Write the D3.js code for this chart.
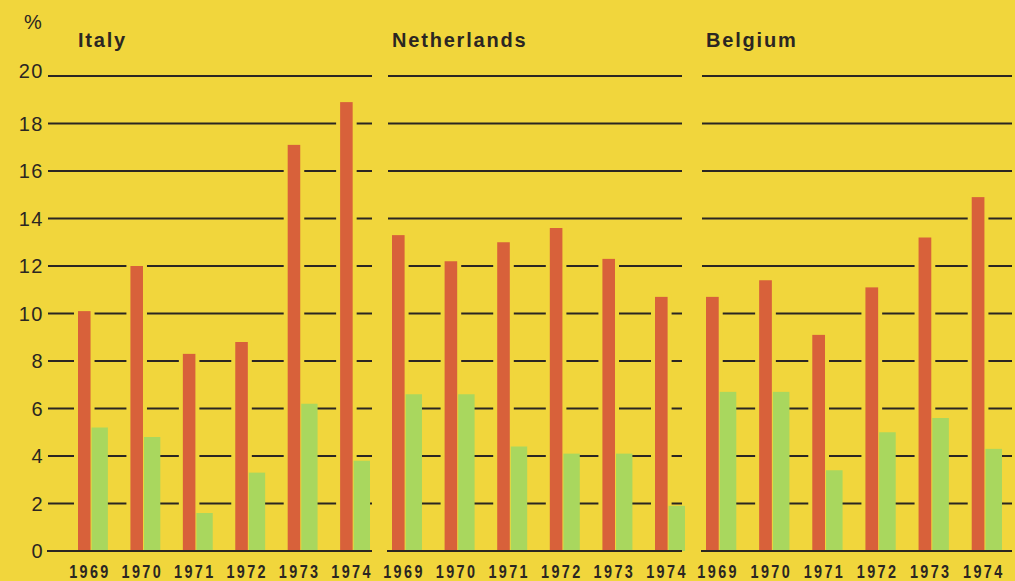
<!DOCTYPE html>
<html>
<head>
<meta charset="utf-8">
<script src="https://cdn.jsdelivr.net/npm/d3@7"></script>
<style>
  html, body { margin: 0; padding: 0; background: #f1d63c; }
  svg { display: block; }
  .tick-label { font-family: "Liberation Sans", Arial, sans-serif; font-size: 20px; fill: #2b2622; letter-spacing: 1.5px; }
  .title { font-family: "Liberation Sans", Arial, sans-serif; font-size: 20px; font-weight: bold; fill: #2b2622; letter-spacing: 1.8px; }
  .year { font-family: "Liberation Sans", Arial, sans-serif; font-size: 18px; font-weight: bold; fill: #2b2622; letter-spacing: 3px; }
</style>
</head>
<body>
<svg id="chart" width="1015" height="581" viewBox="0 0 1015 581"></svg>
<script>
// --- Data -------------------------------------
const years = [1969, 1970, 1971, 1972, 1973, 1974];
const countries = ["Italy", "Netherlands", "Belgium"];
const yTicks = [0, 2, 4, 6, 8, 10, 12, 14, 16, 18, 20];

// orange bars
const italyRed = [10.1, 12.0, 8.3, 8.8, 17.1, 18.9];
const netherlandsRed = [13.3, 12.2, 13.0, 13.6, 12.3, 10.7];
const belgiumRed = [10.7, 11.4, 9.1, 11.1, 13.2, 14.9];

// green bars
const italyGreen = [5.2, 4.8, 1.6, 3.3, 6.2, 3.8];
const netherlandsGreen = [6.6, 6.6, 4.4, 4.1, 4.1, 1.9];
const belgiumGreen = [6.7, 6.7, 3.4, 5.0, 5.6, 4.3];

const redSeries = [italyRed, netherlandsRed, belgiumRed];
const greenSeries = [italyGreen, netherlandsGreen, belgiumGreen];

// --- Layout ------------------------------------
const bg = "#f1d63c";
const red = "#d8613a";
const green = "#a9d75e";
const ink = "#2b2622";

// one entry per panel: where its gridlines run, where its bars go
const panels = [
  {grid: [48, 372], bars: [78, 370]},
  {grid: [388, 682], bars: [392, 685]},
  {grid: [702, 1012], bars: [706, 1002]}
];

const svg = d3.select("#chart");

svg.append("rect")
  .attr("width", 1015)
  .attr("height", 581)
  .attr("fill", bg);

const y = d3.scaleLinear()
  .domain([0, 20])
  .range([551, 76]);

// y labels, only once on the left
svg.append("g")
  .selectAll("text")
  .data(yTicks)
  .enter()
  .append("text")
  .attr("class", "tick-label")
  .attr("x", 44)
  .attr("y", d => y(d))
  .attr("dy", d => d === 20 ? "0.1em" : "0.36em")
  .attr("text-anchor", "end")
  .text(d => d);

svg.append("text")
  .attr("class", "tick-label")
  .attr("x", 24)
  .attr("y", 29)
  .text("%");

panels.forEach((p, i) => {
  const g = svg.append("g");

  const x = d3.scaleBand()
    .domain(years)
    .range(p.bars)
    .paddingInner(0.43)
    .paddingOuter(0);

  const bw = x.bandwidth();
  const redW = bw * 0.42;
  const greenW = bw - redW;

  const rows = years.map((yr, j) => ({
    year: yr,
    red: redSeries[i][j],
    green: greenSeries[i][j]
  }));

  // title
  g.append("text")
    .attr("class", "title")
    .attr("x", p.bars[0])
    .attr("y", 47)
    .text(countries[i]);

  // gridlines (not the baseline)
  g.append("g")
    .selectAll("line")
    .data(yTicks.filter(t => t > 0))
    .enter()
    .append("line")
    .attr("x1", p.grid[0])
    .attr("x2", p.grid[1])
    .attr("y1", d => y(d))
    .attr("y2", d => y(d))
    .attr("stroke", ink)
    .attr("stroke-width", 2);

  // small gaps in the gridlines around the orange bars
  g.append("g")
    .selectAll("rect")
    .data(rows)
    .enter()
    .append("rect")
    .attr("x", d => x(d.year) - 4)
    .attr("y", d => y(d.red) - 2)
    .attr("width", redW + 8)
    .attr("height", d => y(0) - y(d.red) + 2)
    .attr("fill", bg);

  g.append("g")
    .selectAll("rect")
    .data(rows)
    .enter()
    .append("rect")
    .attr("x", d => x(d.year))
    .attr("y", d => y(d.red))
    .attr("width", redW)
    .attr("height", d => y(0) - y(d.red))
    .attr("fill", red);

  g.append("g")
    .selectAll("rect")
    .data(rows)
    .enter()
    .append("rect")
    .attr("x", d => x(d.year) + redW + 1)
    .attr("y", d => y(d.green))
    .attr("width", greenW - 1)
    .attr("height", d => y(0) - y(d.green))
    .attr("fill", green);

  // baseline
  g.append("line")
    .attr("x1", p.grid[0] - 1)
    .attr("x2", p.grid[1])
    .attr("y1", y(0))
    .attr("y2", y(0))
    .attr("stroke", ink)
    .attr("stroke-width", 2);

  // year labels: narrow, spaced-out digits, so squeeze the text sideways
  g.append("g")
    .selectAll("text")
    .data(years)
    .enter()
    .append("text")
    .attr("class", "year")
    .attr("transform", d => "translate(" + (x(d) + bw / 2 - 4 + 1) + ",578) scale(0.8,1)")
    .attr("text-anchor", "middle")
    .text(d => d);
});
</script>
</body>
</html>
